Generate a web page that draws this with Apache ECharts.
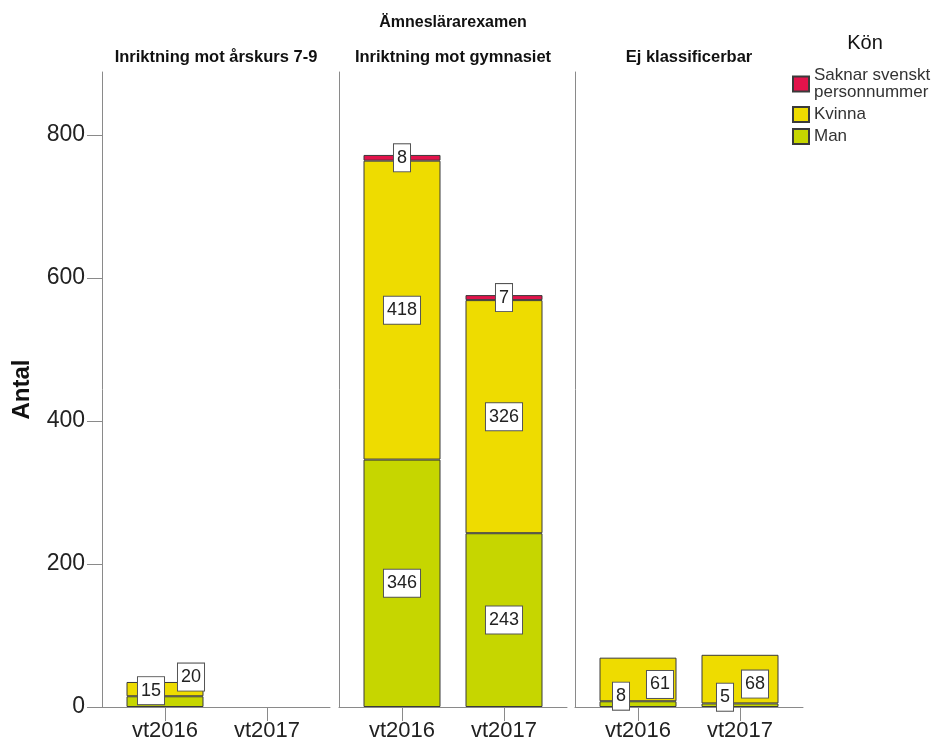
<!DOCTYPE html>
<html>
<head>
<meta charset="utf-8">
<script src="https://cdn.jsdelivr.net/npm/echarts@6/dist/echarts.min.js"></script>
<style>html,body{margin:0;padding:0;background:#fff}#c{width:936px;height:746px}</style>
</head>
<body>
<div id="c"></div>
<script>
// ---- data ----
const superTitle = 'Ämneslärarexamen';
const panels = ['Inriktning mot årskurs 7-9', 'Inriktning mot gymnasiet', 'Ej klassificerbar'];
const categories = ['vt2016', 'vt2017'];
const manValues = [[15, null], [346, 243], [8, 5]];
const kvinnaValues = [[20, null], [418, 326], [61, 68]];
const saknarValues = [[null, null], [8, 7], [null, null]];
const yTicks = [0, 200, 400, 600, 800];
const legendTitle = 'Kön';
const yName = 'Antal';

// ---- styling / layout ----
const FONT = 'Liberation Sans, Arial, sans-serif';
const panelLeft = [102, 339, 575];
const panelWidth = 228;
const inset = 12;
const gridTop = 72, gridHeight = 635;
const yMax = 888;
const axisGray = '#8a8a8a';
const seriesDefs = [
  { name: 'Man', values: manValues, color: '#C6D600' },
  { name: 'Kvinna', values: kvinnaValues, color: '#EEDC00' },
  { name: 'Saknar svenskt personnummer', values: saknarValues, color: '#E2134B' }
];
// label offsets for small segments (panel-series-category)
const labelOffsets = {
  '0-Man-0': [-14, -11], '0-Kvinna-0': [26, -12],
  '2-Man-0': [-17, -8], '2-Kvinna-0': [22, 5],
  '2-Man-1': [-15, -8], '2-Kvinna-1': [15, 5]
};

const grids = [], xAxes = [], yAxes = [], series = [];
panels.forEach((p, i) => {
  grids.push({ left: panelLeft[i], top: gridTop, width: panelWidth, height: gridHeight });
});
panels.forEach((p, i) => {
  grids.push({ left: panelLeft[i] + inset, top: gridTop, width: panelWidth - 2 * inset, height: gridHeight });
});
panels.forEach((p, i) => {
  xAxes.push({
    type: 'value', gridIndex: i, min: 0, max: 1,
    axisLine: { show: true, onZero: false, lineStyle: { color: axisGray, width: 1 } },
    axisTick: { show: false }, axisLabel: { show: false }, splitLine: { show: false }
  });
  const y = {
    type: 'value', gridIndex: i, min: 0, max: yMax,
    axisLine: { show: true, onZero: false, lineStyle: { color: axisGray, width: 1 } },
    axisTick: { show: false }, axisLabel: { show: false }, splitLine: { show: false }
  };
  if (i === 0) {
    y.axisTick = { show: true, inside: false, length: 15, customValues: yTicks, lineStyle: { color: axisGray } };
    y.axisLabel = { show: true, customValues: yTicks, fontSize: 23, color: '#222', fontFamily: FONT, margin: 17 };
    y.name = yName;
    y.nameLocation = 'middle';
    y.nameGap = 68;
    y.nameTextStyle = { fontSize: 24, fontWeight: 'bold', color: '#111', fontFamily: FONT };
  }
  yAxes.push(y);
});
panels.forEach((p, i) => {
  xAxes.push({
    type: 'category', gridIndex: 3 + i, data: categories,
    axisLine: { show: false },
    axisTick: { show: true, alignWithLabel: true, length: 14, lineStyle: { color: axisGray } },
    axisLabel: { fontSize: 22, color: '#222', fontFamily: FONT, margin: 13 },
    splitLine: { show: false }
  });
  yAxes.push({ type: 'value', gridIndex: 3 + i, min: 0, max: yMax, show: false });
  seriesDefs.forEach(s => {
    series.push({
      type: 'bar', name: s.name, xAxisIndex: 3 + i, yAxisIndex: 3 + i,
      stack: 'panel' + i, barWidth: 77,
      itemStyle: { color: s.color, borderColor: '#3a3a3a', borderWidth: 1 },
      label: {
        show: true, position: 'inside', formatter: '{c}',
        fontSize: 18, color: '#222', fontFamily: FONT,
        backgroundColor: '#fff', borderColor: '#555', borderWidth: 1, padding: [5, 3, 4, 3]
      },
      emphasis: { disabled: true },
      data: s.values[i].map((v, c) => {
        const item = { value: v == null ? '-' : v };
        const off = labelOffsets[i + '-' + s.name + '-' + c];
        if (off) item.label = { offset: off };
        return item;
      })
    });
  });
});

const graphics = [
  { type: 'text', x: panelLeft[1] + panelWidth / 2, y: 23,
    style: { text: superTitle, align: 'center', verticalAlign: 'middle', font: 'bold 16px ' + FONT, fill: '#111' } },
  { type: 'text', x: 865, y: 43,
    style: { text: legendTitle, align: 'center', verticalAlign: 'middle', font: '20px ' + FONT, fill: '#111' } }
];
panels.forEach((p, i) => {
  graphics.push({ type: 'text', x: panelLeft[i] + panelWidth / 2, y: 57,
    style: { text: p, align: 'center', verticalAlign: 'middle', font: 'bold 16.5px ' + FONT, fill: '#111' } });
});

const chart = echarts.init(document.getElementById('c'), null, { renderer: 'canvas' });
chart.setOption({
  animation: false,
  backgroundColor: '#fff',
  grid: grids, xAxis: xAxes, yAxis: yAxes, series: series,
  graphic: graphics,
  legend: {
    data: ['Saknar svenskt personnummer', 'Kvinna', 'Man'],
    orient: 'vertical', left: 792, top: 67, padding: 0,
    itemWidth: 16, itemHeight: 15, itemGap: 5, icon: 'rect',
    selectedMode: false,
    formatter: n => n.replace(' personnummer', '\npersonnummer'),
    textStyle: { fontSize: 17, lineHeight: 17, color: '#333', fontFamily: FONT }
  }
});
</script>
</body>
</html>
